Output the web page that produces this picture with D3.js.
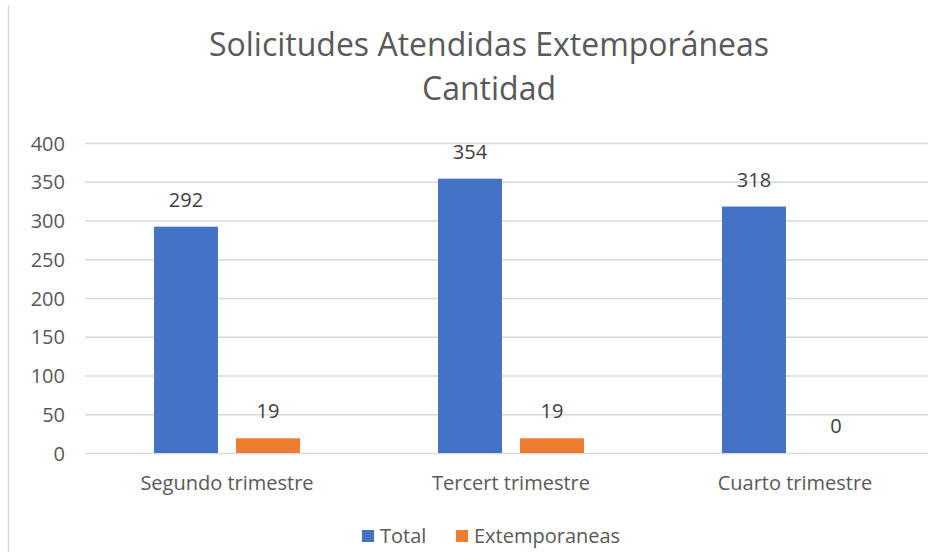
<!DOCTYPE html>
<html>
<head>
<meta charset="utf-8">
<script src="https://cdn.jsdelivr.net/npm/d3@7"></script>
<style>
  body { margin: 0; background: #fff; }
  text { font-family: "Open Sans", sans-serif; fill: #595959; }
</style>
</head>
<body>
<svg width="928" height="552"></svg>
<script>
var categories = ["Segundo trimestre", "Tercert trimestre", "Cuarto trimestre"];
var series = ["Total", "Extemporaneas"];
var totalValues = [292, 354, 318];
var extempValues = [19, 19, 0];
var yTicks = [0, 50, 100, 150, 200, 250, 300, 350, 400];
var titleLines = ["Solicitudes Atendidas Extemporáneas", "Cantidad"];

var colors = { "Total": "#4472C4", "Extemporaneas": "#ED7D31" };

var svg = d3.select("svg"),
	width = +svg.attr("width"),
	height = +svg.attr("height");

var data = categories.map(function(c, i) {
	return { cat: c, values: [
		{ key: "Total", value: totalValues[i] },
		{ key: "Extemporaneas", value: extempValues[i] }
	]};
});

// chart area border (left edge only visible)
svg.append("line")
	.attr("x1", 8.5).attr("x2", 8.5)
	.attr("y1", 5).attr("y2", height)
	.attr("stroke", "#d9d9d9").attr("stroke-width", 1.5);

var x0 = d3.scaleBand().domain(categories).range([85, 937]).padding(0);
var x1 = d3.scaleBand().domain(series)
	.range([x0.bandwidth() / 2 - 82, x0.bandwidth() / 2 + 82])
	.paddingInner(0.22).paddingOuter(0.11);
var y = d3.scaleLinear().domain([0, 400]).range([453, 143]);

// gridlines
svg.append("g").selectAll("line").data(yTicks).enter().append("line")
	.attr("x1", 85).attr("x2", width)
	.attr("y1", function(d) { return y(d) + 0.5; })
	.attr("y2", function(d) { return y(d) + 0.5; })
	.attr("stroke", "#d9d9d9").attr("stroke-width", 1.3);

// y axis labels
var yAxis = d3.axisLeft(y).tickValues(yTicks).tickSize(0).tickPadding(0);
var gy = svg.append("g").attr("transform", "translate(65,0)").call(yAxis);
gy.select(".domain").remove();
gy.selectAll("text").attr("font-size", 20).style("font-family", null).attr("dy", "0.35em");

// bars
var groups = svg.append("g").selectAll("g").data(data).enter().append("g")
	.attr("transform", function(d) { return "translate(" + x0(d.cat) + ",0)"; });

groups.selectAll("rect").data(function(d) { return d.values; }).enter().append("rect")
	.attr("x", function(d) { return x1(d.key); })
	.attr("y", function(d) { return y(d.value); })
	.attr("width", x1.bandwidth())
	.attr("height", function(d) { return y(0) - y(d.value); })
	.attr("fill", function(d) { return colors[d.key]; });

groups.selectAll("text").data(function(d) { return d.values; }).enter().append("text")
	.attr("x", function(d) { return x1(d.key) + x1.bandwidth() / 2; })
	.attr("y", function(d) { return y(d.value) - 20; })
	.attr("text-anchor", "middle")
	.attr("font-size", 20)
	.style("fill", "#404040")
	.text(function(d) { return d.value; });

// x axis labels
var xAxis = d3.axisBottom(x0).tickSize(0).tickPadding(0);
var gx = svg.append("g").attr("transform", "translate(0,490)").call(xAxis);
gx.select(".domain").remove();
gx.selectAll("text").attr("font-size", 20).style("font-family", null).attr("dy", 0);

// title
svg.append("g").selectAll("text").data(titleLines).enter().append("text")
	.attr("x", 489)
	.attr("y", function(d, i) { return 56 + i * 44; })
	.attr("text-anchor", "middle")
	.attr("font-size", 32)
	.text(function(d) { return d; });

// legend
var legendX = [362, 456];
var legend = svg.append("g").selectAll("g").data(series).enter().append("g")
	.attr("transform", function(d, i) { return "translate(" + legendX[i] + ",530)"; });
legend.append("rect").attr("width", 12).attr("height", 12)
	.attr("fill", function(d) { return colors[d]; });
legend.append("text").attr("x", 18).attr("y", 13)
	.attr("font-size", 20)
	.text(function(d) { return d; });
</script>
</body>
</html>
